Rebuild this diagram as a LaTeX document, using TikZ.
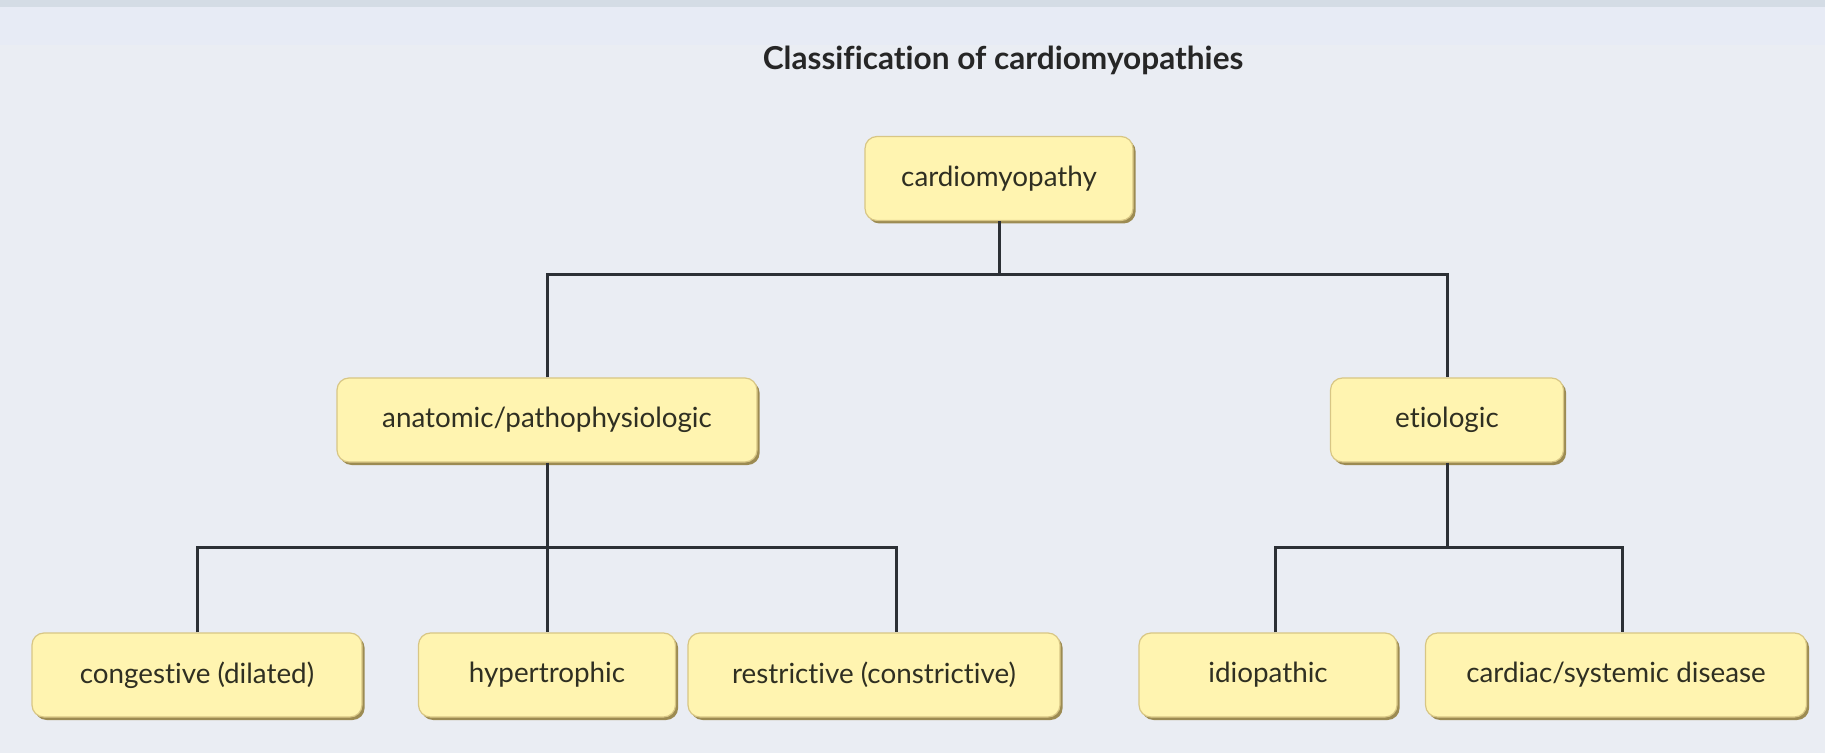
\documentclass[tikz,border=0pt]{standalone}
\usepackage{fontspec}
\setmainfont{Lato}[Ligatures=NoCommon]
\usetikzlibrary{shadows}
\definecolor{bgpanel}{HTML}{EAEDF3}
\definecolor{bgtop}{HTML}{D4DCE5}
\definecolor{bgband}{HTML}{E7EBF5}
\definecolor{boxfill}{HTML}{FFF4B0}
\definecolor{boxedge}{HTML}{D8C684}
\definecolor{boxshade}{HTML}{9C8B52}
\definecolor{linkcol}{HTML}{2C3035}
\definecolor{txtcol}{HTML}{2F2F22}
\tikzset{
  x=0.5pt, y=-0.5pt,
  catbox/.style={rounded corners=6pt, fill=boxfill, draw=boxedge, line width=0.6pt,
    minimum height=42pt, inner sep=0pt, text=txtcol,
    font=\fontsize{13.9}{16}\selectfont,
    drop shadow={shadow xshift=1.3pt, shadow yshift=-1.5pt, fill=boxshade, opacity=1}},
  link/.style={draw=linkcol, line width=1.5pt},
  heading/.style={font=\bfseries\fontsize{15.8}{18}\selectfont, text=black!85}
}
\begin{document}
\begin{tikzpicture}
  % background panel
  \fill[bgpanel] (0,0) rectangle (1825,753);
  \fill[bgband] (0,7) rectangle (1825,45);
  \fill[bgtop] (0,0) rectangle (1825,7);
  \useasboundingbox (0,0) rectangle (1825,753);

  \node[heading] (title) at (1003,60) {Classification of cardiomyopathies};

  % root
  \node[catbox, minimum width=134pt] (cm) at (999,178.5) {cardiomyopathy};

  % second level
  \node[catbox, minimum width=210pt] (anat) at (547,420) {anatomic/pathophysiologic};
  \node[catbox, minimum width=116.5pt] (etio) at (1447,420) {etiologic};

  % third level
  \node[catbox, minimum width=165pt] (cong) at (197,675) {congestive (dilated)};
  \node[catbox, minimum width=128.5pt] (hyper) at (547,675) {hypertrophic};
  \node[catbox, minimum width=186pt] (restr) at (874,675) {restrictive (constrictive)};
  \node[catbox, minimum width=129pt] (idio) at (1268,675) {idiopathic};
  \node[catbox, minimum width=190.5pt] (card) at (1616,675) {cardiac/systemic disease};

  % junction points of the tree
  \coordinate (top-bar) at (999,275);
  \coordinate (left-bar) at (547,547);
  \coordinate (left-end) at (896,547);
  \coordinate (right-start) at (1275,547);
  \coordinate (right-end) at (1622,547);

  % connectors
  \draw[link] (cm.south) -- (top-bar);
  \draw[link] (anat.north) -- (anat.north |- top-bar) -- (etio.north |- top-bar) -- (etio.north);
  \draw[link] (anat.south) -- (hyper.north);
  \draw[link] (cong.north) -- (cong.north |- left-bar) -- (left-end) -- (left-end |- restr.north);
  \draw[link] (etio.south) -- (etio.south |- right-start);
  \draw[link] (right-start |- idio.north) -- (right-start) -- (right-end) -- (right-end |- card.north);
\end{tikzpicture}
\end{document}
